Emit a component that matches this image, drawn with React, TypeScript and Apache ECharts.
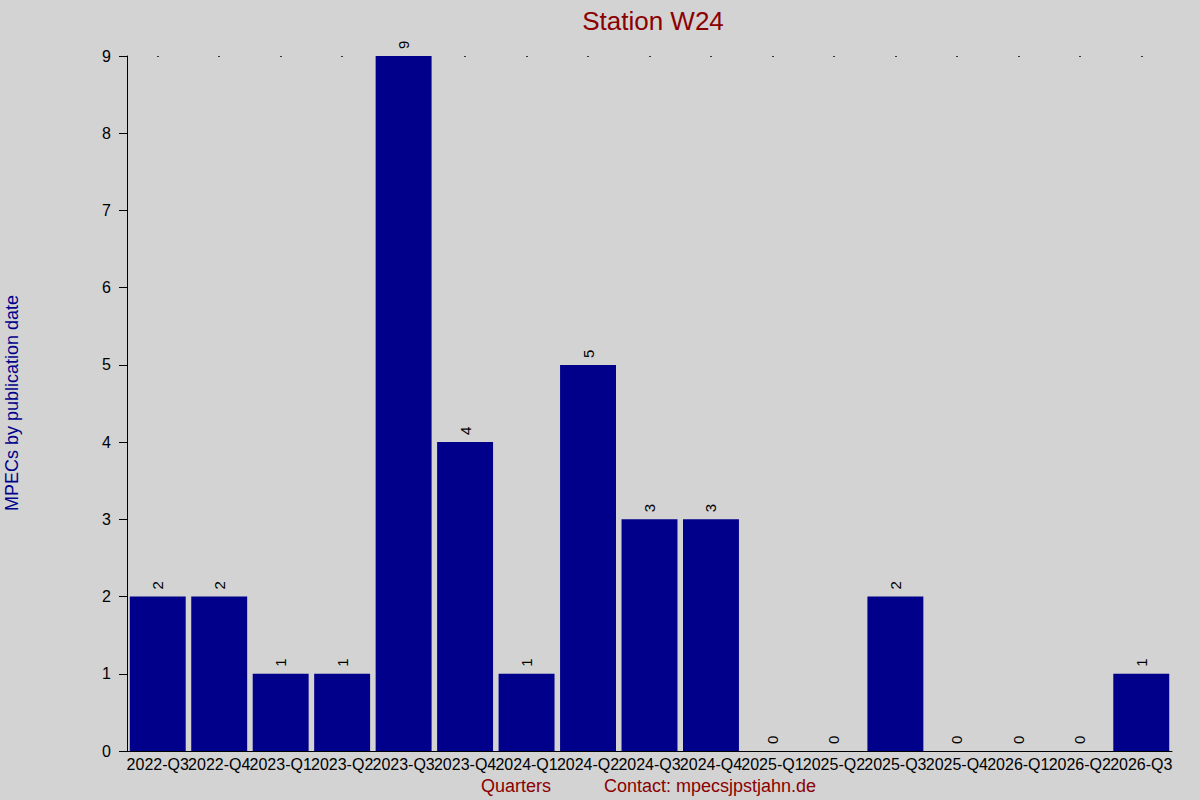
import { useEffect, useRef } from 'react';
import * as echarts from 'echarts';

const quarters = [
  '2022-Q3', '2022-Q4', '2023-Q1', '2023-Q2', '2023-Q3', '2023-Q4',
  '2024-Q1', '2024-Q2', '2024-Q3', '2024-Q4', '2025-Q1', '2025-Q2',
  '2025-Q3', '2025-Q4', '2026-Q1', '2026-Q2', '2026-Q3',
];
const mpecCounts = [2, 2, 1, 1, 9, 4, 1, 5, 3, 3, 0, 0, 2, 0, 0, 0, 1];

const chartTitle = 'Station W24';
const yAxisTitle = 'MPECs by publication date';
const xAxisTitle = 'Quarters';
const contactText = 'Contact: mpecsjpstjahn.de';

const FONT = '"Liberation Sans", Arial, sans-serif';

export default function App() {
  const chartContainerRef = useRef<HTMLDivElement | null>(null);

  useEffect(() => {
    if (!chartContainerRef.current) {
      return;
    }

    const chart = echarts.init(chartContainerRef.current, null, { renderer: 'svg' });

    chart.setOption({
      animation: false,
      backgroundColor: '#d3d3d3',
      textStyle: { fontFamily: FONT },
      title: {
        text: chartTitle,
        left: 648,
        top: 3,
        textAlign: 'center',
        textStyle: { color: '#8b0000', fontSize: 26, fontWeight: 'normal', fontFamily: FONT },
      },
      grid: {
        left: 127,
        right: 28,
        top: 56,
        bottom: 49,
        containLabel: false,
      },
      xAxis: [
        {
          type: 'category',
          data: quarters,
          axisLine: { lineStyle: { color: '#000', width: 1 } },
          axisTick: { show: false },
          axisLabel: {
            interval: 0,
            color: '#000',
            fontSize: 16,
            margin: 5,
            fontFamily: FONT,
          },
        },
        {
          // only used for the small dots along the top edge
          type: 'category',
          data: quarters,
          position: 'top',
          axisLine: { show: false },
          axisTick: {
            show: true,
            alignWithLabel: true,
            inside: true,
            length: 1,
            lineStyle: { color: '#000', width: 1.5 },
          },
          axisLabel: { show: false },
        },
      ],
      yAxis: {
        type: 'value',
        min: 0,
        max: 9,
        interval: 1,
        axisLine: { show: true, lineStyle: { color: '#000', width: 1 } },
        axisTick: { show: true, length: 8, lineStyle: { color: '#000' } },
        splitLine: { show: false },
        axisLabel: {
          color: '#000',
          fontSize: 16,
          margin: 16,
          fontFamily: FONT,
        },
      },
      series: [
        {
          type: 'bar',
          data: mpecCounts,
          barCategoryGap: '9%',
          itemStyle: { color: '#00008b' },
          label: {
            show: true,
            position: 'top',
            rotate: 90,
            align: 'left',
            verticalAlign: 'middle',
            distance: 7,
            color: '#000',
            fontSize: 15,
            fontFamily: FONT,
          },
        },
      ],
      graphic: [
        {
          type: 'text',
          x: 12,
          y: 403,
          rotation: Math.PI / 2,
          style: {
            text: yAxisTitle,
            fill: '#00008b',
            fontSize: 18,
            fontFamily: FONT,
            align: 'center',
            verticalAlign: 'middle',
          },
        },
        {
          type: 'text',
          x: 516,
          y: 786,
          style: {
            text: xAxisTitle,
            fill: '#8b0000',
            fontSize: 18,
            fontFamily: FONT,
            align: 'center',
            verticalAlign: 'middle',
          },
        },
        {
          type: 'text',
          x: 710,
          y: 786,
          style: {
            text: contactText,
            fill: '#8b0000',
            fontSize: 18,
            fontFamily: FONT,
            align: 'center',
            verticalAlign: 'middle',
          },
        },
      ],
    });

    return () => {
      chart.dispose();
    };
  }, []);

  return (
    <div
      ref={chartContainerRef}
      style={{ position: 'absolute', left: 0, top: 0, width: 1200, height: 800 }}
    />
  );
}
